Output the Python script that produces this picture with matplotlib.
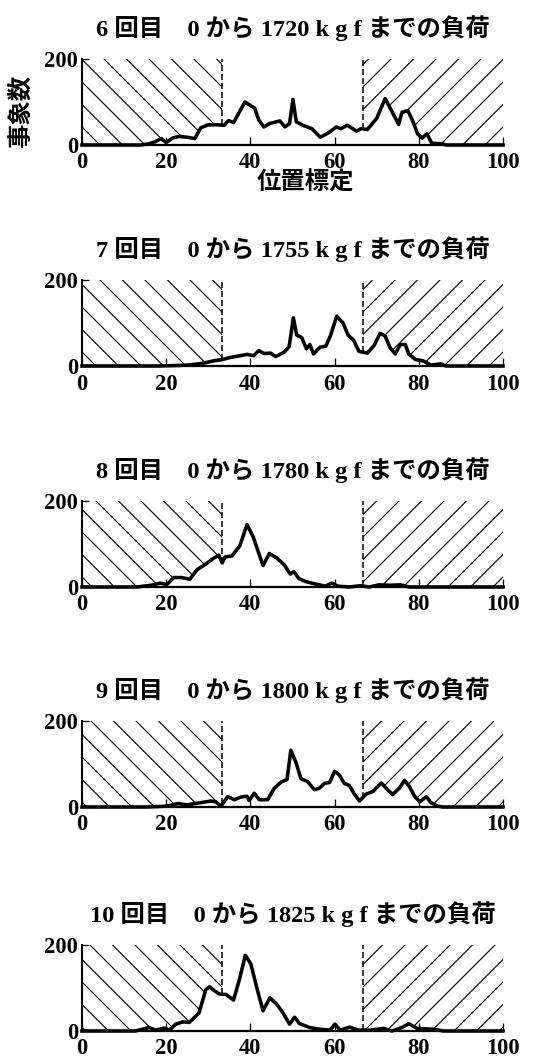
import numpy as np
import matplotlib
matplotlib.use("Agg")
import matplotlib.pyplot as plt

W, H, DPI = 544, 1061, 135

plt.rcParams['font.family'] = ['Liberation Serif', 'Noto Sans CJK JP']
plt.rcParams['font.weight'] = 'bold'
plt.rcParams['hatch.linewidth'] = 0.6
plt.rcParams['hatch.color'] = 'black'

titles = [
    "6 回目　0 から 1720 k g f までの負荷",
    "7 回目　0 から 1755 k g f までの負荷",
    "8 回目　0 から 1780 k g f までの負荷",
    "9 回目　0 から 1800 k g f までの負荷",
    "10 回目　0 から 1825 k g f までの負荷",
]

# 6回目
x6 = [0, 14, 16, 17.5, 18.8, 20, 21.5, 23, 25, 26.8, 28.2, 30, 32, 33.8, 34.8, 36,
      38.7, 40.3, 41, 42, 43.2, 44.6, 47, 48.2, 49.3, 50.1, 50.9, 52.4, 54.6, 56.6,
      58.5, 60.4, 61.5, 63, 64.3, 65.2, 66.3, 67.8, 70, 72, 73.3, 75.2, 76, 77.4,
      78.6, 79.7, 80.8, 81.9, 83.1, 85.4, 86.5, 100]
y6 = [0, 0, 3, 8, 15, 6, 16, 20, 18, 15, 40, 47, 47, 46, 57, 52,
      100, 90, 86, 58, 42, 50, 56, 42, 50, 106, 54, 46, 38, 18,
      28, 42, 38, 46, 38, 32, 38, 36, 62, 108, 84, 48, 76, 80,
      55, 26, 16, 26, 4, 3, 0, 0]

# 7回目
x7 = [0, 18, 22, 25, 28.5, 31.3, 33.3, 35.3, 37.6, 39.2, 40.8, 42, 43.2, 44.8, 46,
      48, 49.2, 50.2, 51, 52.2, 53.3, 54.1, 55, 56.6, 57.9, 59, 60.5, 62, 63.2,
      64.5, 65.8, 67.8, 69.4, 70.8, 72, 73.2, 74.4, 75.6, 76.8, 77.6, 79.2, 81,
      82.9, 85.2, 86.5, 100]
y7 = [0, 0, 1, 2, 6, 12, 15, 20, 24, 27, 24, 36, 29, 30, 22,
      32, 45, 112, 72, 66, 40, 50, 28, 44, 46, 70, 116, 100, 72,
      60, 34, 30, 48, 76, 70, 42, 28, 50, 50, 28, 15, 12,
      2, 5, 0, 0]

# 8回目
x8 = [0, 13, 16.4, 18.6, 20.2, 21.8, 23.6, 25.6, 27.3, 29.2, 31.1, 32.5, 33.3, 34,
      35.6, 37.5, 39.2, 40.6, 41.8, 43, 44.5, 46.2, 48, 49.5, 50.3, 51.5, 53,
      55.4, 57.8, 59.3, 60.8, 63.4, 66.2, 68.2, 70.5, 72.9, 75.7, 77.7, 100]
y8 = [0, 0, 4, 9, 6, 22, 22, 18, 40, 52, 66, 74, 56, 70,
      72, 96, 145, 118, 84, 50, 78, 68, 52, 30, 36, 20, 13,
      7, 2, 9, 2, 0, 3, 0, 5, 4, 5, 0, 0]

# 9回目
x9 = [0, 15, 18, 20.3, 22.7, 25, 28.2, 30.6, 31.8, 33, 34.6, 36.2, 37.7, 39.2, 39.7,
      40.9, 42.1, 44.1, 45.7, 47.3, 48.7, 49.6, 50.8, 52, 53.6, 55.2, 56.4, 57.6,
      58.8, 60, 61.1, 62.3, 63.5, 64.7, 65.9, 67.5, 69.1, 71.1, 72.6, 73.8, 75.4,
      76.6, 77.8, 79, 80.2, 81.8, 82.9, 84.5, 85.7, 100]
y9 = [0, 0, 1, 2, 8, 5, 10, 14, 12, 2, 24, 17, 23, 25, 15,
      32, 17, 17, 44, 58, 64, 132, 104, 66, 59, 40, 44, 55,
      57, 83, 75, 55, 50, 30, 14, 30, 36, 56, 40, 29, 44,
      62, 47, 25, 12, 24, 10, 2, 0, 0]

# 10回目
x10 = [0, 12.7, 15.9, 17.5, 19.5, 20.7, 22.3, 23.9, 25.5, 27.8, 29.4, 30.3, 31.4,
       32.6, 34.2, 36, 37.4, 38.8, 40.1, 41.7, 43, 44.6, 46.2, 47.7, 49.3, 50.5,
       51.7, 54.1, 56.5, 58.9, 60.1, 61.3, 63.6, 65.6, 68.4, 71.6, 73.6, 76, 77.6,
       79.6, 83.5, 85.9, 100]
y10 = [0, 0, 8, 2, 7, 2, 16, 21, 20, 42, 96, 103, 94,
       86, 85, 72, 120, 176, 156, 94, 47, 77, 63, 43, 16, 32,
       17, 8, 4, 2, 16, 2, 9, 2, 2, 6, 0, 8, 17,
       6, 4, 0, 0]

runs = [(x6, y6), (x7, y7), (x8, y8), (x9, y9), (x10, y10)]
left_zone, right_zone = 33.3, 66.7
xticks = [0, 20, 40, 60, 80, 100]
yticks = [0, 200]

# panel tops in pixels
tops = [59, 280, 501, 721, 945]

fig = plt.figure(figsize=(W / DPI, H / DPI), dpi=DPI)

for i, ((xs, ys), title, top) in enumerate(zip(runs, titles, tops)):
    ax = fig.add_axes([82 / W, 1 - (top + 86) / H, 421 / W, 86 / H])
    xs = np.array(xs, float)
    ys = np.array(ys, float)

    # hatched zones above the curve
    xd = np.linspace(0, 100, 2001)
    yd = np.interp(xd, xs, ys)
    m = xd <= left_zone
    ax.fill_between(xd[m], yd[m], 200, facecolor='none', edgecolor='black',
                    linewidth=0, hatch='\\\\')
    m = xd >= right_zone
    ax.fill_between(xd[m], yd[m], 200, facecolor='none', edgecolor='black',
                    linewidth=0, hatch='//')
    for xz in (left_zone, right_zone):
        ax.vlines(xz, np.interp(xz, xs, ys), 200, colors='black',
                  linestyles=(0, (4, 2)), linewidth=0.8)

    ax.plot(xs, ys, color='black', lw=1.9, clip_on=False, solid_joinstyle='round')

    ax.set_xlim(0, 100)
    ax.set_ylim(0, 200)
    ax.set_xticks(xticks)
    ax.set_yticks(yticks)
    ax.spines['top'].set_visible(False)
    ax.spines['right'].set_visible(False)
    ax.spines['left'].set_linewidth(1.1)
    ax.spines['bottom'].set_linewidth(1.2)
    ax.tick_params(axis='x', direction='in', length=4.5, width=0.7, pad=4, labelsize=12)
    ax.tick_params(axis='y', direction='in', length=3.5, width=0.7, pad=2, labelsize=12)

    ax.text(0.5, 1 + 31 / 86, title, transform=ax.transAxes, ha='center',
            va='center', fontsize=13)

    if i == 0:
        ax.text(-61 / 421, 0.395, "事象数", transform=ax.transAxes, rotation=90,
                ha='center', va='center', fontsize=13)
        ax.text(0.53, -38 / 86, "位置標定", transform=ax.transAxes, ha='center',
                va='center', fontsize=13)

fig.savefig("out.png", dpi=DPI)
